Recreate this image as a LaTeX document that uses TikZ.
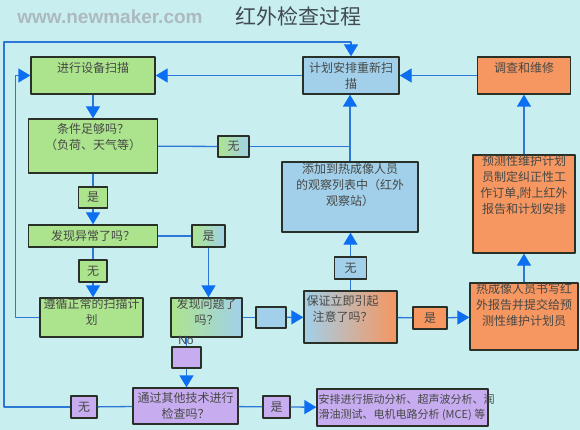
\documentclass[tikz,border=0pt]{standalone}
\usepackage{fontspec}
\usepackage{tikz}
\usetikzlibrary{arrows.meta,positioning}
\newfontfamily\cjk{Noto Sans CJK SC}
\newfontfamily\latinsans{Liberation Sans}
\definecolor{bgcyan}{RGB}{200,238,240}
\definecolor{boxgreen}{RGB}{172,228,142}
\definecolor{boxblue}{RGB}{162,208,234}
\definecolor{boxorange}{RGB}{246,150,96}
\definecolor{boxpurple}{RGB}{200,172,240}
\definecolor{boxline}{RGB}{40,48,40}
\definecolor{lineblue}{RGB}{45,120,215}
\definecolor{arrowblue}{RGB}{12,110,240}
\definecolor{textgray}{RGB}{70,72,70}
\definecolor{titlegray}{RGB}{65,75,80}
\definecolor{wmgray}{RGB}{172,186,190}
\newcommand{\boxfont}{\cjk\fontsize{12}{16}\selectfont}

\begin{document}
\begin{tikzpicture}[x=1pt,y=-1pt,line join=round,
  box/.style={draw=boxline,line width=1.3pt,inner sep=1pt,font=\boxfont,text=textgray,align=center},
  gbox/.style={box,fill=boxgreen},
  bbox/.style={box,fill=boxblue},
  obox/.style={box,fill=boxorange},
  pbox/.style={box,fill=boxpurple},
  gbshade/.style={box,left color=boxgreen,right color=boxblue},
  sz/.style 2 args={minimum width=#1pt,minimum height=#2pt},
  boxtext/.style={anchor=north,font=\boxfont,text=textgray,align=center,inner sep=1pt},
  ln/.style={draw=lineblue,line width=1.3pt},
  arr/.style={ln,-{Triangle[width=14pt,length=12pt,color=arrowblue]}}]
\fill[bgcyan] (0,0) rectangle (580,430);
\useasboundingbox (0,0) rectangle (580,430);
% Titel und Wasserzeichen
\node[font=\latinsans\bfseries\fontsize{19}{19}\selectfont,text=wmgray] (wmark) at (110,17) {www.newmaker.com};
\node[font=\cjk\fontsize{21}{21}\selectfont,text=titlegray] (title) at (298,16) {红外检查过程};
% obere Reihe
\node[gbox,sz={124}{37}] (scan) at (93,75.5) {};
\node[boxtext,below=5pt of scan.north] (scantext) {进行设备扫描};
\node[bbox,sz={96}{37}] (plan) at (351,75.5) {计划安排重新扫\\描};
\node[obox,sz={93}{37}] (repair) at (524,75.5) {};
\node[boxtext,below=5pt of repair.north] (repairtext) {调查和维修};
% linke Spalte
\node[gbox,sz={129}{54}] (cond) at (93,146) {};
\node[boxtext,below=4pt of cond.north] (condtext) {条件足够吗？\\（负荷、天气等）};
\node[gbshade,sz={31}{21}] (no1) at (233.5,146.5) {无};
\node[gbox,sz={29}{21}] (yes1) at (93,197.5) {是};
\node[gbox,sz={129}{22}] (abn) at (93,236) {发现异常了吗？};
\node[gbshade,sz={33}{22}] (yes2) at (208.5,236) {是};
\node[gbox,sz={28}{22}] (no2) at (93,271) {无};
\node[gbox,sz={103}{39}] (follow) at (91.5,317.5) {};
\node[boxtext,below=0pt of follow.north] (followtext) {遵循正常的扫描计\\划};
\node[gbshade,sz={71}{39}] (found) at (206.5,317.5) {};
\node[boxtext,below=0pt of found.north] (foundtext) {发现问题了\\吗？};
\node[bbox,sz={30}{21}] (blank) at (271,317.5) {};
% Mitte
\node[bbox,sz={136}{70}] (obs) at (350,197) {};
\node[boxtext,below=1pt of obs.north] (obstext) {添加到热成像人员\\的观察列表中（红外\\观察站）};
\node[bbox,sz={32}{22}] (no4) at (350.5,268) {无};
\node[box,left color=boxblue,right color=boxorange,sz={93}{52}] (ensure) at (350.5,317) {};
\node[boxtext,below=4pt of ensure.north,xshift=-8pt] (ensuretext) {保证立即引起\\注意了吗？};
\node[obox,sz={34}{22}] (yes3) at (430,318) {是};
% rechte Spalte
\node[obox,sz={102}{98}] (plannr) at (524,204) {};
\node[boxtext,below=0pt of plannr.north] (plannrtext) {预测性维护计划\\员制定纠正性工\\作订单,附上红外\\报告和计划安排};
\node[obox,sz={108}{67}] (report) at (524,316.5) {};
\node[boxtext,below=0pt of report.north] (reporttext) {热成像人员书写红\\外报告并提交给预\\测性维护计划员};
% untere Reihe
\node[pbox,sz={29}{21}] (no3) at (186.5,357.5) {};
\node[pbox,sz={105}{36}] (check) at (185.5,406) {通过其他技术进行\\检查吗？};
\node[pbox,sz={26}{22}] (no5) at (84,407) {无};
\node[pbox,sz={27}{22}] (yes4) at (276.5,407) {是};
\node[pbox,sz={171}{37}] (act) at (402.5,407.5) {};
\node[boxtext,align=left,right=1pt of act.west,font=\cjk\fontsize{11}{15}\selectfont] (acttext) {安排进行振动分析、超声波分析、润\\滑油测试、电机电路分析 (MCE) 等};
% Verbindungen
\draw[arr] (scan) -- (cond);
\draw[ln] (cond) -- (yes1);
\draw[arr] (yes1) -- (abn);
\draw[ln] (abn) -- (no2);
\draw[arr] (no2.south) -- (no2.south |- follow.north);
\draw[arr] (follow.west) -- ++(-24,0) |- (scan.west);
\draw[ln] (cond) -- (no1);
\draw[ln] (no1) -| (obs.north);
\draw[arr] (obs.north) -- (obs.north |- plan.south);
\draw[arr] (plan) -- (scan);
\draw[arr] (repair) -- (plan);
\draw[ln] (abn) -- (yes2);
\draw[arr] (yes2.south) -- (yes2.south |- found.north);
\draw[ln] (found) -- (blank);
\draw[arr] (blank) -- (ensure);
\draw[ln] (ensure) -- (no4);
\draw[arr] (no4.north) -- (no4.north |- obs.south);
\draw[ln] (ensure) -- (yes3);
\draw[arr] (yes3) -- (report);
\draw[arr] (report) -- (plannr);
\draw[arr] (plannr) -- (repair);
\draw[ln] (no3.north) -- (no3.north |- found.south);
\draw[arr] (no3.south) -- (no3.south |- check.north);
\draw[ln] (check) -- (no5);
\draw[arr] (no5.west) -| (4,42) -| (plan.north);
\draw[ln] (check) -- (yes4);
\draw[arr] (yes4) -- (act);
\node[font=\latinsans\fontsize{12}{12}\selectfont,text=textgray,inner sep=0pt] (nolabel) at (186,340) {No};
\end{tikzpicture}
\end{document}
